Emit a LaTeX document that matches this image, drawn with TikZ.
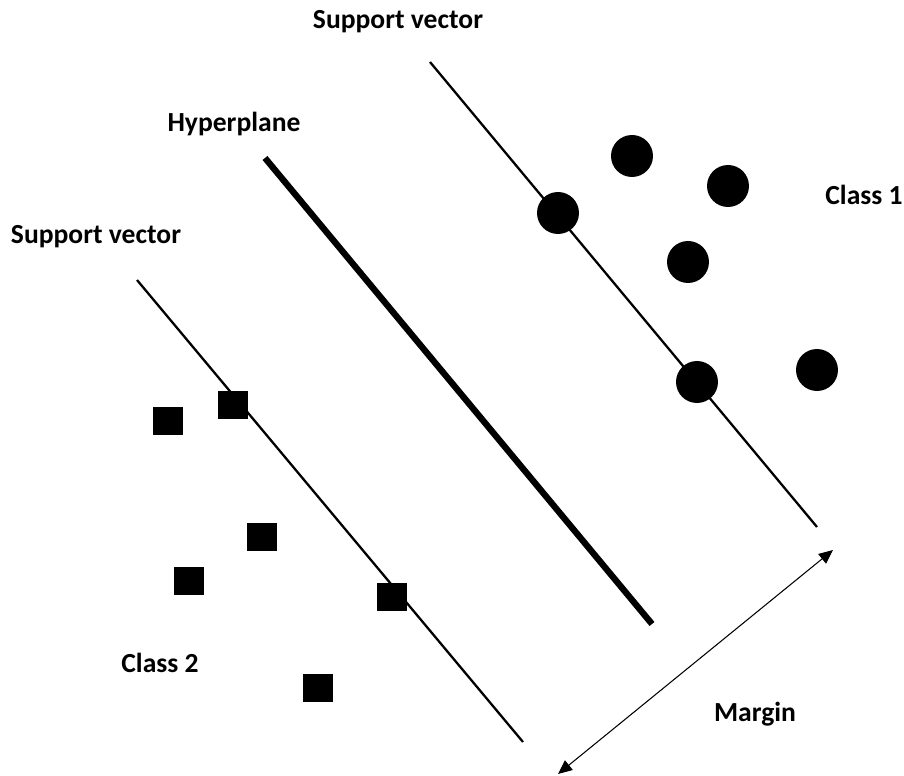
\documentclass[tikz,border=0pt]{standalone}
\usepackage{fontspec}
\setmainfont{Carlito}
\usetikzlibrary{arrows.meta, positioning}

\begin{document}
\begin{tikzpicture}[
  x=0.02cm, y=-0.02cm,
  lbl/.style={font=\bfseries\fontsize{15.7}{18}\selectfont, inner sep=0pt},
  svline/.style={line width=1.3pt},
  hyper/.style={line width=3.6pt},
  dot/.style={circle, fill=black, minimum size=0.84cm, inner sep=0pt},
  sq/.style={rectangle, fill=black, minimum width=0.6cm, minimum height=0.56cm, inner sep=0pt},
  marg/.style={line width=0.6pt, {Triangle[length=8pt,width=7pt]}-{Triangle[length=8pt,width=7pt]}}
]
\useasboundingbox (0,0) rectangle (904,776);

% support vectors and hyperplane
\coordinate (sv1a) at (430,62);
\coordinate (sv1b) at (817,527);
\coordinate (hpa) at (265,158);
\coordinate (hpb) at (652,624);
\coordinate (sv2a) at (137,280);
\coordinate (sv2b) at (523,742);
\draw[svline] (sv1a) -- (sv1b);
\draw[hyper] (hpa) -- (hpb);
\draw[svline] (sv2a) -- (sv2b);

% class 1
\node[dot] (c1) at (632,156) {};
\node[dot] (c2) at (728,186) {};
\node[dot] (c3) at (558,213) {};
\node[dot] (c4) at (688,262) {};
\node[dot] (c5) at (697,382) {};
\node[dot] (c6) at (817,370) {};

% class 2
\node[sq] (s1) at (168,421) {};
\node[sq] (s2) at (233,405) {};
\node[sq] (s3) at (262,537) {};
\node[sq] (s4) at (189,581) {};
\node[sq] (s5) at (392,597) {};
\node[sq] (s6) at (318,688) {};

% margin
\coordinate (ma) at (833,550);
\coordinate (mb) at (558,774);
\draw[marg] (mb) -- (ma);

% labels
\node[lbl] (lsv1) at (398,22) {Support vector};
\node[lbl] (lhp) at (234,124) {Hyperplane};
\node[lbl] (lsv2) at (96,237) {Support vector};
\node[lbl] (lc1) at (864,195) {Class 1};
\node[lbl] (lc2) at (160,663) {Class 2};
\node[lbl] (lm) at (755,714) {Margin};
\end{tikzpicture}
\end{document}
